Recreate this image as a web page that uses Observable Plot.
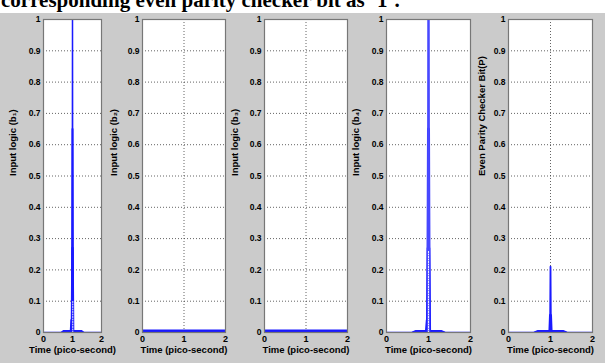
<!DOCTYPE html>
<html><head><meta charset="utf-8">
<script src="https://cdn.jsdelivr.net/npm/d3@7"></script>
<script src="https://cdn.jsdelivr.net/npm/@observablehq/plot@0.6"></script>
<style>
html,body{margin:0;padding:0;background:#fff;}
#fig{position:relative;width:605px;height:363px;overflow:hidden;background:#fff;}
#bg{position:absolute;left:0;top:13px;width:605px;height:350px;background:#cbcbcb;}
#title{position:absolute;left:1px;top:-10px;font:bold 21px/21px "Liberation Serif","Times New Roman",serif;white-space:nowrap;color:#000;}
.panel{position:absolute;}
</style></head><body>
<div id="fig"><div id="bg"></div><div id="title"></div></div>
<script>
// ---- text ----
const titleText = "corresponding even parity checker bit as \u20181\u2019.";
const xLabel = "Time (pico-second)";
const yLabels = ["Input logic (b\u2081)", "Input logic (b\u2082)", "Input logic (b\u2083)", "Input logic (b\u2084)", "Even Parity Checker Bit(P)"];
const xTicks = [0, 1, 2];
const yTicks = [0, 0.1, 0.2, 0.3, 0.4, 0.5, 0.6, 0.7, 0.8, 0.9, 1];
const yGrid = [0.1, 0.2, 0.3, 0.4, 0.5, 0.6, 0.7, 0.8, 0.9];
const xGrid = [1];

// ---- data (time in ps, value) ----
// b1
const b1BaseT = [0, 2], b1BaseV = [0, 0];
const b1PeakT = [0.99, 1.0, 1.01], b1PeakV = [0, 1.0, 0];
const b1MidT = [0.985, 1.0, 1.015], b1MidV = [0, 0.65, 0];
const b1LowT = [0.98, 1.0, 1.02], b1LowV = [0, 0.27, 0];
const b1RipT = [0.62, 0.7, 0.94, 0.96, 0.98, 1.04, 1.3, 1.38], b1RipV = [0, 0.005, 0.005, 0.04, 0.005, 0.005, 0.005, 0];
const b1DotT = [1.01, 1.01], b1DotV = [0, 0.1];
// b2
const b2BaseT = [0, 2], b2BaseV = [0.004, 0.004];
// b3
const b3BaseT = [0, 2], b3BaseV = [0.004, 0.004];
// b4
const b4BaseT = [0, 2], b4BaseV = [0, 0];
const b4PeakT = [0.99, 1.0, 1.01], b4PeakV = [0, 1.0, 0];
const b4MidT = [0.985, 1.0, 1.015], b4MidV = [0, 0.65, 0];
const b4LowT = [0.98, 1.0, 1.02], b4LowV = [0, 0.27, 0];
const b4RipT = [0.62, 0.7, 0.94, 0.96, 0.98, 1.04, 1.3, 1.38], b4RipV = [0, 0.005, 0.005, 0.04, 0.005, 0.005, 0.005, 0];
const b4DotT = [1.0, 1.0], b4DotV = [0, 0.26];
// P
const pBaseT = [0, 2], pBaseV = [0, 0];
const pPeakT = [0.99, 1.0, 1.01], pPeakV = [0, 0.21, 0];
const pLowT = [0.985, 1.0, 1.015], pLowV = [0, 0.055, 0];
const pRipT = [0.62, 0.7, 0.95, 1.05, 1.3, 1.38], pRipV = [0, 0.005, 0.005, 0.005, 0.005, 0];

document.getElementById("title").textContent = titleText;

const pts = (T, V) => T.map((t, i) => ({t, v: V[i]}));
const BLUE = "#1a1aff";

const panels = [
  {left: 43, right: 101, label: yLabels[0], lo: 31, traces: [
    {d: pts(b1BaseT, b1BaseV), w: 1.5},
    {d: pts(b1RipT, b1RipV), w: 2},
    {d: pts(b1LowT, b1LowV), w: 2.5},
    {d: pts(b1MidT, b1MidV), w: 2},
    {d: pts(b1PeakT, b1PeakV), w: 1.5},
    {d: pts(b1DotT, b1DotV), w: 1, c: "#ffffff", dash: "1,1.5"}
  ]},
  {left: 142, right: 225, label: yLabels[1], lo: 29, traces: [
    {d: pts(b2BaseT, b2BaseV), w: 3.5}
  ]},
  {left: 264, right: 347, label: yLabels[2], lo: 30, traces: [
    {d: pts(b3BaseT, b3BaseV), w: 3.5}
  ]},
  {left: 386, right: 470, label: yLabels[3], lo: 31, traces: [
    {d: pts(b4BaseT, b4BaseV), w: 1.5},
    {d: pts(b4RipT, b4RipV), w: 2},
    {d: pts(b4LowT, b4LowV), w: 3.5},
    {d: pts(b4MidT, b4MidV), w: 3},
    {d: pts(b4PeakT, b4PeakV), w: 2.5, c: "#4848ff"},
    {d: pts(b4DotT, b4DotV), w: 1, c: "#ffffff", dash: "1,1.5"}
  ]},
  {left: 508, right: 592, label: yLabels[4], lo: 27, traces: [
    {d: pts(pBaseT, pBaseV), w: 1.5},
    {d: pts(pRipT, pRipV), w: 2},
    {d: pts(pLowT, pLowV), w: 3},
    {d: pts(pPeakT, pPeakV), w: 1.8}
  ]}
];

const TOP = 19, BOTTOM = 332;
const mL = 44, mR = 8, mT = 8, mB = 32;
const fig = document.getElementById("fig");

for (const p of panels) {
  const W = p.right - p.left;
  const chart = Plot.plot({
    width: W + mL + mR,
    height: (BOTTOM - TOP) + mT + mB,
    marginLeft: mL, marginRight: mR, marginTop: mT, marginBottom: mB,
    style: {background: "transparent", fontFamily: "'Liberation Sans', Arial, sans-serif", fontSize: "8.5px", color: "#000", overflow: "visible"},
    x: {domain: [0, 2]},
    y: {domain: [0, 1]},
    marks: [
      Plot.frame({fill: "#ffffff"}),
      Plot.gridY(yGrid, {stroke: "#303030", strokeOpacity: 0.75, strokeDasharray: "1,2"}),
      Plot.gridX(xGrid, {stroke: "#303030", strokeOpacity: 0.75, strokeDasharray: "1,2"}),
      ...p.traces.map(tr => Plot.line(tr.d, {x: "t", y: "v", stroke: tr.c || BLUE, strokeWidth: tr.w, strokeDasharray: tr.dash, clip: true})),
      Plot.frame({stroke: "#777777", strokeWidth: 1.2}),
      Plot.axisX(xTicks, {tickSize: 0, tickPadding: 3, fontWeight: "bold", fontSize: 9, tickFormat: d => String(d),
        label: null}),
      Plot.text([xLabel], {frameAnchor: "bottom", dy: 20, fontSize: 9.5, fontWeight: "bold", text: d => d}),
      Plot.axisY(yTicks, {tickSize: 0, tickPadding: 3, fontWeight: "bold", fontSize: 8.5, tickFormat: d => String(d),
        label: null}),
      Plot.text([p.label], {frameAnchor: "left", dx: -p.lo, rotate: -90, fontSize: 9.5, fontWeight: "bold", text: d => d})
    ]
  });
  chart.classList.add("panel");
  chart.style.left = (p.left - mL) + "px";
  chart.style.top = (TOP - mT) + "px";
  fig.appendChild(chart);
}
</script>
</body></html>
